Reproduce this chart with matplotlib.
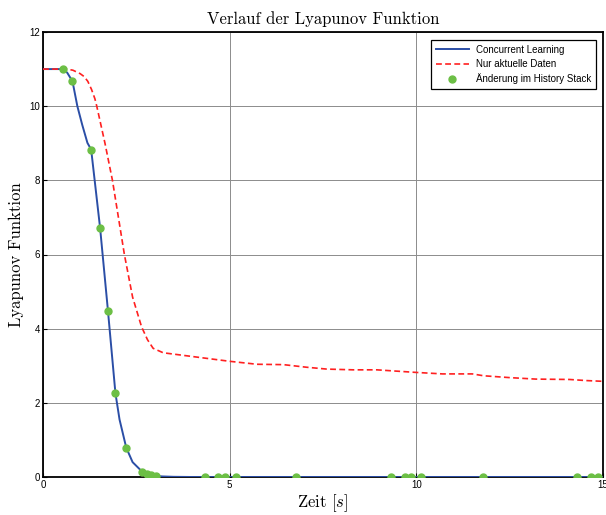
import matplotlib
matplotlib.use('Agg')
import matplotlib.pyplot as plt

# Concurrent Learning (blue)
t_cl = [0, 0.54, 0.65, 0.79, 0.92, 1.05, 1.19, 1.29, 1.35, 1.53, 1.74, 1.94, 2.05,
        2.23, 2.4, 2.66, 2.79, 2.88, 3.02, 3.2, 3.5, 4.0, 15.0]
v_cl = [11.0, 11.0, 10.9, 10.67, 10.0, 9.5, 9.01, 8.83, 8.3, 6.71, 4.48, 2.26, 1.55,
        0.79, 0.4, 0.14, 0.09, 0.05, 0.03, 0.015, 0.005, 0.0, 0.0]

# Nur aktuelle Daten (red dashed)
t_akt = [0, 0.63, 0.8, 0.99, 1.1, 1.2, 1.3, 1.39, 1.44, 1.66, 1.86, 2.18, 2.4, 2.64, 2.8,
         2.95, 3.22, 3.76, 4.38, 5.0, 5.73, 6.44, 7.06, 7.6, 8.31, 8.94, 9.39, 10.0,
         10.7, 11.5, 11.8, 12.5, 13.2, 14.1, 14.56, 15.0]
v_akt = [11.0, 11.0, 10.97, 10.88, 10.8, 10.67, 10.45, 10.2, 10.0, 9.0, 8.0, 6.0, 4.85,
         4.05, 3.7, 3.47, 3.35, 3.28, 3.2, 3.12, 3.04, 3.03, 2.96, 2.91, 2.89, 2.89, 2.86,
         2.82, 2.78, 2.78, 2.73, 2.68, 2.64, 2.63, 2.6, 2.58]

# Aenderung im History Stack (green dots)
t_hist = [0.54, 0.79, 1.29, 1.53, 1.74, 1.94, 2.23, 2.66, 2.79, 2.88, 3.02, 4.33, 4.69,
          4.87, 5.16, 6.77, 9.33, 9.69, 9.87, 10.13, 11.78, 14.30, 14.68, 14.87]
v_hist = [11.0, 10.67, 8.83, 6.71, 4.48, 2.26, 0.79, 0.14, 0.09, 0.05, 0.03, 0.0, 0.0,
          0.0, 0.0, 0.0, 0.0, 0.0, 0.0, 0.0, 0.0, 0.0, 0.0, 0.0]

xticks = [0, 5, 10, 15]
yticks = [0, 2, 4, 6, 8, 10, 12]

plt.rcParams['mathtext.fontset'] = 'cm'
sans = 'Liberation Sans'
serif = 'cmr10'

fig = plt.figure(figsize=(6.06, 5.15), dpi=100)
ax = fig.add_axes([43 / 606, 1 - 477 / 515, 560 / 606, 445 / 515])

ax.plot(t_cl, v_cl, color='#2b4ea6', lw=1.4, label='Concurrent Learning', zorder=3)
ax.plot(t_akt, v_akt, color='#ff2020', lw=1.2, ls=(0, (3.5, 2)),
        label='Nur aktuelle Daten', zorder=3)
ax.plot(t_hist, v_hist, 'o', color='#6cbf45', ms=5, mec='#6cbf45',
        label='Änderung im History Stack', zorder=4)

ax.set_xlim(0, 15)
ax.set_ylim(0, 12)
ax.set_xticks(xticks)
ax.set_yticks(yticks)
ax.grid(True, color='0.55', lw=0.7)
ax.tick_params(direction='in', length=3, labelsize=7, pad=2)
for lbl in ax.get_xticklabels() + ax.get_yticklabels():
    lbl.set_fontfamily(sans)
for s in ax.spines.values():
    s.set_linewidth(1.3)

ax.set_title('Verlauf der Lyapunov Funktion', fontfamily=serif, fontsize=12, pad=6)
ax.set_xlabel('Zeit $[s]$', fontfamily=serif, fontsize=12, labelpad=2)
ax.set_ylabel('Lyapunov Funktion', fontfamily=serif, fontsize=12, labelpad=4)

leg = ax.legend(loc='upper right', prop={'family': sans, 'size': 7}, fancybox=False,
                framealpha=1, edgecolor='black', handlelength=3.4, borderpad=0.5,
                labelspacing=0.45, bbox_to_anchor=(0.997, 0.993))
leg.get_frame().set_linewidth(0.9)

fig.savefig('out.png', dpi=100)
